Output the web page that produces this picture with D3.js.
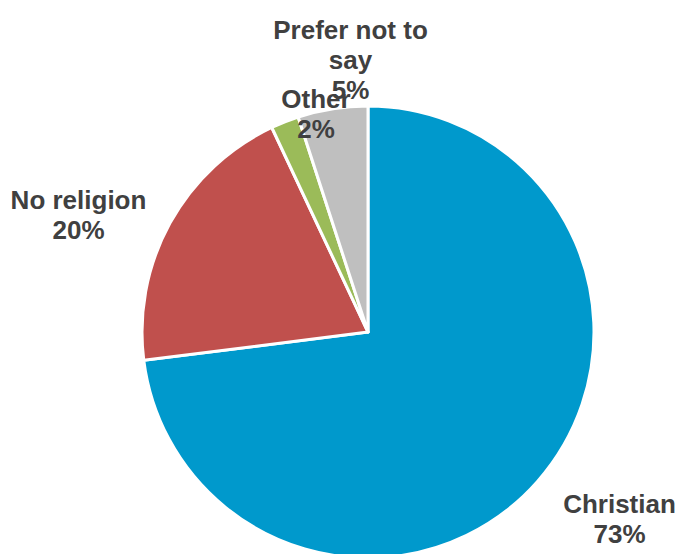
<!DOCTYPE html>
<html>
<head>
<meta charset="utf-8">
<script src="https://cdn.jsdelivr.net/npm/d3@7"></script>
<style>
  html, body { margin: 0; padding: 0; background: #fff; }
  svg { display: block; }
</style>
</head>
<body>
<svg id="chart" width="679" height="554"></svg>
<script>
const categories = ["Christian", "No religion", "Other", "Prefer not to say"];
const values = [73, 20, 2, 5];
const valueLabels = ["73%", "20%", "2%", "5%"];
const labelLines = [["Christian"], ["No religion"], ["Other"], ["Prefer not to", "say"]];
const colors = ["#0099cc", "#c0504d", "#9bbb59", "#bfbfbf"];

// layout (not data)
const W = 679, H = 554;
const cx = 368, cy = 332, R = 226;
const fontSize = 26, lineH = 30;
// label anchor: [x offset, first baseline offset] relative to pie center
const labelAnchor = [[251.5, 181], [-289.5, -123], [-52, -224], [-17.5, -293]];

const svg = d3.select("#chart");
const g = svg.append("g").attr("transform", `translate(${cx},${cy})`);

const pie = d3.pie().sort(null).value(d => d).startAngle(0).endAngle(2 * Math.PI);
const arcs = pie(values);
const arc = d3.arc().innerRadius(0).outerRadius(R);

g.selectAll("path.slice")
  .data(arcs)
  .enter().append("path")
  .attr("class", "slice")
  .attr("d", arc)
  .attr("fill", (d, i) => colors[i])
  .attr("stroke", "#ffffff")
  .attr("stroke-width", 3)
  .attr("stroke-linejoin", "round");

const labels = g.selectAll("text.lbl")
  .data(arcs)
  .enter().append("text")
  .attr("class", "lbl")
  .attr("text-anchor", "middle")
  .attr("font-family", "'Liberation Sans', Arial, sans-serif")
  .attr("font-weight", "bold")
  .attr("font-size", fontSize)
  .attr("fill", "#404040");

labels.each(function(d, i) {
  const t = d3.select(this);
  const lines = labelLines[i].concat([valueLabels[i]]);
  const [x, y] = labelAnchor[i];
  lines.forEach((ln, k) => {
    t.append("tspan").attr("x", x).attr("y", y + k * lineH).text(ln);
  });
});
</script>
</body>
</html>
